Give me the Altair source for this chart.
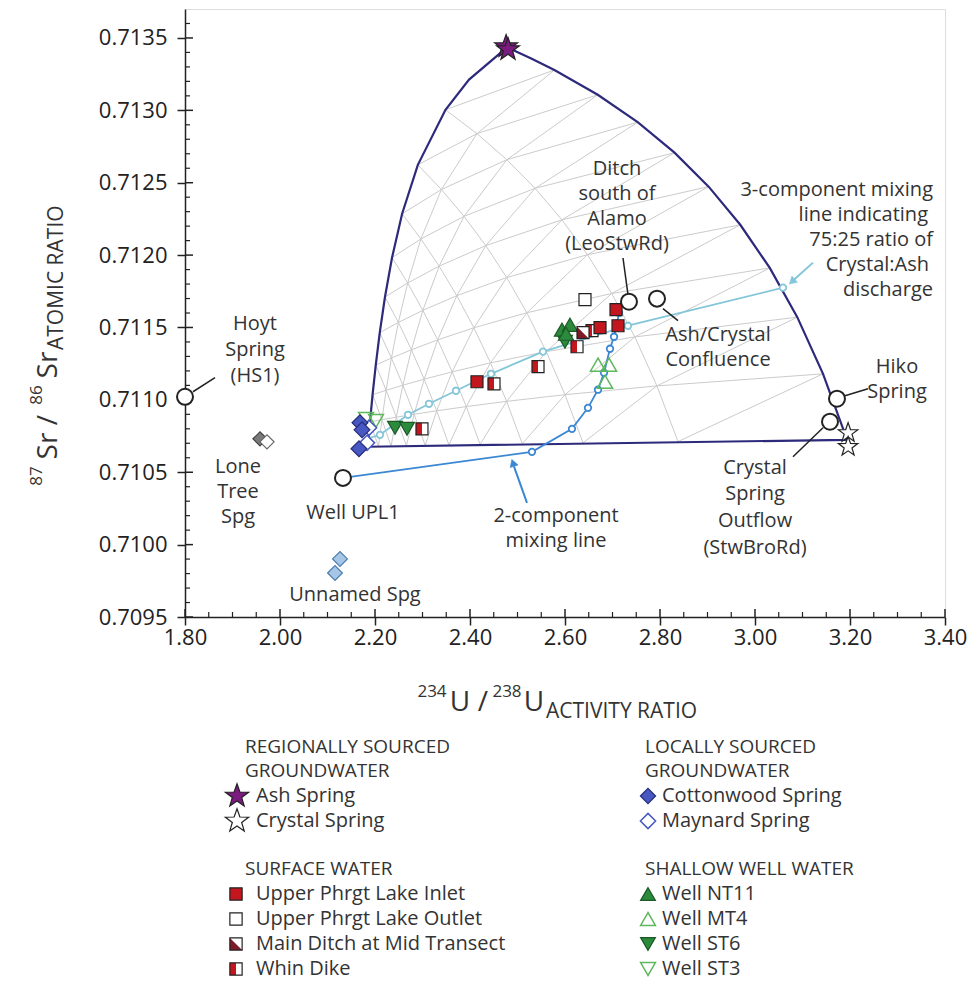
import altair as alt
import pandas as pd

FONT = "Open Sans"
INK = "#333333"
W, H = 760, 608
OX, OY = 185, 9  # page position of the plot origin

# ---------------- axis ticks ----------------
x_major = [1.8, 2.0, 2.2, 2.4, 2.6, 2.8, 3.0, 3.2, 3.4]
x_minor = [1.85, 1.90, 1.95, 2.05, 2.10, 2.15, 2.25, 2.30, 2.35, 2.45, 2.50, 2.55,
           2.65, 2.70, 2.75, 2.85, 2.90, 2.95, 3.05, 3.10, 3.15, 3.25, 3.30, 3.35]
y_major = [0.7095, 0.7100, 0.7105, 0.7110, 0.7115, 0.7120, 0.7125, 0.7130, 0.7135]
y_minor = [0.7096, 0.7097, 0.7098, 0.7099, 0.7101, 0.7102, 0.7103, 0.7104,
           0.7106, 0.7107, 0.7108, 0.7109, 0.7111, 0.7112, 0.7113, 0.7114,
           0.7116, 0.7117, 0.7118, 0.7119, 0.7121, 0.7122, 0.7123, 0.7124,
           0.7126, 0.7127, 0.7128, 0.7129, 0.7131, 0.7132, 0.7133, 0.7134, 0.7136]

# ---------------- 3-component mixing grid nodes (row = Ash tenths, col = local tenths) ----------------
grid_u = [
    [3.194, 2.8379, 2.6380, 2.5101, 2.4212, 2.3557, 2.3057, 2.2660, 2.2339, 2.2073, 2.185],
    [3.1432, 2.7935, 2.6000, 2.4771, 2.3922, 2.3299, 2.2824, 2.2449, 2.2146, 2.1895],
    [3.0890, 2.7470, 2.5605, 2.4432, 2.3625, 2.3036, 2.2587, 2.2235, 2.1949],
    [3.0311, 2.6983, 2.5197, 2.4082, 2.3320, 2.2767, 2.2346, 2.2016],
    [2.9690, 2.6472, 2.4773, 2.3722, 2.3008, 2.2492, 2.2100],
    [2.9024, 2.5935, 2.4332, 2.3350, 2.2688, 2.2210],
    [2.8306, 2.5370, 2.3874, 2.2967, 2.2359],
    [2.7530, 2.4775, 2.3398, 2.2571],
    [2.6690, 2.4147, 2.2902],
    [2.5777, 2.3484],
    [2.478],
]
grid_s = [
    [0.7107240, 0.7107119, 0.7107033, 0.7106969, 0.7106919, 0.7106879, 0.7106847, 0.7106820, 0.7106797, 0.7106777, 0.7106760],
    [0.7111796, 0.7110963, 0.7110357, 0.7109897, 0.7109535, 0.7109244, 0.7109004, 0.7108803, 0.7108632, 0.7108484],
    [0.7115712, 0.7114347, 0.7113335, 0.7112555, 0.7111935, 0.7111431, 0.7111013, 0.7110660, 0.7110359],
    [0.7119113, 0.7117348, 0.7116018, 0.7114978, 0.7114144, 0.7113460, 0.7112888, 0.7112403],
    [0.7122095, 0.7120029, 0.7118447, 0.7117197, 0.7116184, 0.7115347, 0.7114643],
    [0.7124730, 0.7122437, 0.7120657, 0.7119236, 0.7118074, 0.7117106],
    [0.7127077, 0.7124613, 0.7122677, 0.7121115, 0.7119829],
    [0.7129179, 0.7126589, 0.7124530, 0.7122854],
    [0.7131073, 0.7128390, 0.7126235],
    [0.7132789, 0.7130039],
    [0.7134350],
]

# outer boundary of the mixing field (local -> Ash -> Crystal -> local)
boundary_u = [2.185, 2.1895, 2.1949, 2.2016, 2.2100, 2.2210, 2.2359, 2.2571, 2.2902, 2.3484, 2.398,
              2.478, 2.5289, 2.5777, 2.6690, 2.7530, 2.8306, 2.9024, 2.9690, 3.0311, 3.0890, 3.1432,
              3.194, 2.185]
boundary_s = [0.7106760, 0.7108484, 0.7110359, 0.7112403, 0.7114643, 0.7117106, 0.7119829, 0.7122854,
              0.7126235, 0.7130039, 0.7132125, 0.7134350, 0.7133587, 0.7132789, 0.7131073, 0.7129179,
              0.7127077, 0.7124730, 0.7122095, 0.7119113, 0.7115712, 0.7111796, 0.7107240, 0.7106760]

# mixing lines
two_u = [2.1326, 2.5305, 2.6147, 2.6484, 2.6695, 2.6821, 2.6947, 2.7032, 2.7095, 2.7137]
two_s = [0.710461, 0.710641, 0.710800, 0.710945, 0.711070, 0.711187, 0.711353, 0.711436, 0.711526, 0.711602]
three_u = [2.1747, 2.2105, 2.2695, 2.3137, 2.3705, 2.4442, 2.5537, 2.7326, 3.0589]
three_s = [0.710724, 0.7107586, 0.710897, 0.710973, 0.711063, 0.711180, 0.711333, 0.711512, 0.711775]

# samples
ash_u, ash_s = [2.476, 2.480], [0.71344, 0.71342]
crystal_u, crystal_s = [3.196, 3.196], [0.710772, 0.710676]
inlet_u, inlet_s = [2.4147, 2.7074, 2.7116, 2.6737], [0.711125, 0.711623, 0.711512, 0.711499]
outlet_u, outlet_s = [2.6421], [0.711692]
ditch_u, ditch_s = [2.6379], [0.711464]
whin_u, whin_s = [2.2989, 2.4505, 2.5432, 2.6253, 2.6568], [0.710800, 0.711111, 0.711229, 0.711367, 0.711478]
cotton_u, cotton_s = [2.1684, 2.1726, 2.1663], [0.710842, 0.710793, 0.710662]
maynard_u, maynard_s = [2.1874, 2.1832], [0.710807, 0.710703]
nt11_u, nt11_s = [2.5937, 2.6105, 2.6021], [0.711485, 0.711519, 0.711457]
mt4_u, mt4_s = [2.6695, 2.6926, 2.6842], [0.711243, 0.711243, 0.711125]
st6_u, st6_s = [2.2421, 2.2674, 2.6000], [0.710807, 0.710800, 0.711402]
st3_u, st3_s = [2.1811, 2.2021], [0.710869, 0.710855]
lone_u, lone_s = [1.9579, 1.9726], [0.710731, 0.710710]
unnamed_u, unnamed_s = [2.1263, 2.1158], [0.709901, 0.709804]
site_names = ["Hoyt Spring", "Well UPL1", "Ditch LeoStwRd", "Ash/Crystal Confluence", "Hiko Spring", "Crystal Outflow"]
site_u = [1.80, 2.1326, 2.7347, 2.7937, 3.1726, 3.1579]
site_s = [0.711021, 0.710461, 0.711678, 0.711699, 0.711008, 0.710849]

# leader lines (label -> site)
lead_u = [1.8168, 2.7221, 2.8063, 3.1895, 3.1432]
lead_s = [0.711056, 0.711980, 0.711630, 0.711028, 0.710807]
lead_u2 = [1.8632, 2.7326, 2.8379, 3.2379, 3.0800]
lead_s2 = [0.711153, 0.711727, 0.711547, 0.711077, 0.710607]

# ---------------- helpers ----------------
xs = alt.Scale(domain=[1.8, 3.4], nice=False, zero=False)
ys = alt.Scale(domain=[0.7095, 0.7137], nice=False, zero=False)
one = pd.DataFrame({"k": [0]})

x_axis = alt.Axis(values=x_major, format=".2f", title=None, grid=False,
                  labelFont=FONT, labelFontSize=22, labelColor="#222", labelPadding=2,
                  labelFlush=False, labelOverlap=False,
                  tickSize=8, tickWidth=1.5, tickColor="#222",
                  domainColor="#222", domainWidth=1.5)
y_axis = alt.Axis(values=y_major, format=".4f", title=None, grid=False,
                  labelFont=FONT, labelFontSize=22, labelColor="#222", labelPadding=10,
                  labelFlush=False, labelOverlap=False,
                  tickSize=8, tickWidth=1.5, tickColor="#222",
                  domainColor="#222", domainWidth=1.5)

STAR = ("M0,-1L0.235,-0.324L0.951,-0.309L0.380,0.124L0.588,0.809L0,0.4"
        "L-0.588,0.809L-0.380,0.124L-0.951,-0.309L-0.235,-0.324Z")
SQ = "M-1,-1L1,-1L1,1L-1,1Z"
HALF = "M-1,-1L0,-1L0,1L-1,1Z"
DIAG = "M-1,-1L1,1L-1,1Z"

RED = "#c3161f"
DRED = "#7d1a26"
GREEN = "#2b8a3b"
LGREEN = "#5cb85c"
BLUE = "#4758c2"


def XF(field="u"):
    return alt.X(f"{field}:Q", scale=xs, axis=x_axis)


def YF(field="s"):
    return alt.Y(f"{field}:Q", scale=ys, axis=y_axis)


def pts(u, s, shape, size, fill=None, stroke="#222", sw=1.2, angle=0):
    mk = dict(shape=shape, size=size, strokeWidth=sw, opacity=1, angle=angle)
    if fill is None:
        mk.update(filled=False, color=stroke)
    else:
        mk.update(filled=True, fill=fill, stroke=stroke)
    return alt.Chart(pd.DataFrame({"u": u, "s": s})).mark_point(**mk).encode(x=XF(), y=YF())


def sym(px, py, shape, size, fill=None, stroke="#222", sw=1.2):
    mk = dict(shape=shape, size=size, strokeWidth=sw, opacity=1)
    if fill is None:
        mk.update(filled=False, color=stroke)
    else:
        mk.update(filled=True, fill=fill, stroke=stroke)
    return alt.Chart(one).mark_point(**mk).encode(x=alt.value(px - OX), y=alt.value(py - OY))


def txt(s, px, py, size=20, align="center", baseline="middle", color=INK, angle=0):
    return alt.Chart(one).mark_text(text=s, font=FONT, fontSize=size, align=align,
                                    baseline=baseline, color=color, angle=angle).encode(
        x=alt.value(px - OX), y=alt.value(py - OY))


def polyline(df, color, width):
    return alt.Chart(df).mark_line(color=color, strokeWidth=width).encode(
        x=XF(), y=YF(), detail="line:N", order="i:Q")


# ---------------- grid lines ----------------
rows = []
lid = 0
for k in range(1, 10):
    famA = [(grid_u[k][l], grid_s[k][l]) for l in range(0, 11 - k)]
    famL = [(grid_u[a][k], grid_s[a][k]) for a in range(0, 11 - k)]
    famC = [(grid_u[a][10 - a - k], grid_s[a][10 - a - k]) for a in range(0, 11 - k)]
    for fam in (famA, famL, famC):
        for i, (uu, ss) in enumerate(fam):
            rows.append({"line": lid, "i": i, "u": uu, "s": ss})
        lid += 1
grid_df = pd.DataFrame(rows)
grid_layer = polyline(grid_df, "#cbcbcb", 1)

bdf = pd.DataFrame({"u": boundary_u, "s": boundary_s, "i": list(range(len(boundary_u))), "line": 0})
boundary_layer = polyline(bdf, "#2d2a7c", 2.2)

two_df = pd.DataFrame({"u": two_u, "s": two_s, "i": list(range(len(two_u))), "line": 0})
three_df = pd.DataFrame({"u": three_u, "s": three_s, "i": list(range(len(three_u))), "line": 0})
two_line = polyline(two_df, "#3b87d3", 1.8)
three_line = polyline(three_df, "#84c6d9", 1.8)
two_marks = pts(two_u[1:], two_s[1:], "circle", 42, fill="white", stroke="#3b87d3", sw=1.8)
three_marks = pts(three_u[1:], three_s[1:], "circle", 42, fill="white", stroke="#84c6d9", sw=1.8)

# inside tick marks
ty_major = alt.Chart(pd.DataFrame({"s": y_major})).mark_rule(color="#222", strokeWidth=1.5).encode(
    y=YF(), x=alt.value(0), x2=alt.value(8))
ty_minor = alt.Chart(pd.DataFrame({"s": y_minor})).mark_rule(color="#222", strokeWidth=1.2).encode(
    y=YF(), x=alt.value(0), x2=alt.value(5))
tx_major = alt.Chart(pd.DataFrame({"u": x_major})).mark_rule(color="#222", strokeWidth=1.5).encode(
    x=XF(), y=alt.value(H), y2=alt.value(H - 8))
tx_minor = alt.Chart(pd.DataFrame({"u": x_minor})).mark_rule(color="#222", strokeWidth=1.2).encode(
    x=XF(), y=alt.value(H), y2=alt.value(H - 5))


def segs(u, s, u2, s2, color, width):
    df = pd.DataFrame({"u": u, "s": s, "u2": u2, "s2": s2})
    return alt.Chart(df).mark_rule(color=color, strokeWidth=width).encode(
        x=XF(), y=YF(), x2="u2:Q", y2="s2:Q")


leaders = segs(lead_u, lead_s, lead_u2, lead_s2, "#222", 1.5)

# arrows
arrow_blue = segs([2.52], [0.710288], [2.4925], [0.710540], "#3b87d3", 2)
arrow_blue_head = pts([2.4905], [0.710565], "triangle-up", 70, fill="#3b87d3", stroke="#3b87d3", sw=0.5, angle=341)
arrow_cyan = segs([3.1221], [0.711948], [3.0820], [0.711830], "#84c6d9", 2)
arrow_cyan_head = pts([3.0779], [0.711817], "triangle-up", 70, fill="#84c6d9", stroke="#84c6d9", sw=0.5, angle=228)

# sample markers
markers = [
    pts(lone_u[:1], lone_s[:1], "diamond", 200, fill="#7a7a7a", stroke="#444"),
    pts(lone_u[1:], lone_s[1:], "diamond", 200, fill="white", stroke="#666"),
    pts(unnamed_u, unnamed_s, "diamond", 220, fill="#a6c6e6", stroke="#4b7db1"),
    pts(st3_u, st3_s, "triangle-down", 220, stroke=LGREEN, sw=1.5),
    pts(maynard_u, maynard_s, "diamond", 230, fill="white", stroke=BLUE, sw=1.5),
    pts(cotton_u, cotton_s, "diamond", 250, fill=BLUE, stroke="#262c78"),
    pts(st6_u, st6_s, "triangle-down", 220, fill=GREEN, stroke="#1c5a26"),
    pts(nt11_u, nt11_s, "triangle-up", 230, fill=GREEN, stroke="#1c5a26"),
    pts(mt4_u, mt4_s, "triangle-up", 230, stroke=LGREEN, sw=1.5),
    pts(whin_u, whin_s, SQ, 144, fill="white", stroke="white", sw=0),
    pts(whin_u, whin_s, HALF, 144, fill=RED, stroke=RED, sw=0),
    pts(whin_u, whin_s, SQ, 144, stroke="#222", sw=1.2),
    pts(ditch_u, ditch_s, SQ, 144, fill="white", stroke="white", sw=0),
    pts(ditch_u, ditch_s, DIAG, 144, fill=DRED, stroke=DRED, sw=0),
    pts(ditch_u, ditch_s, SQ, 144, stroke="#222", sw=1.2),
    pts(outlet_u, outlet_s, SQ, 144, fill="white", stroke="#222"),
    pts(inlet_u, inlet_s, SQ, 144, fill=RED, stroke="#222"),
    pts(site_u, site_s, "circle", 256, fill="white", stroke="#222", sw=2),
    pts(crystal_u, crystal_s, STAR, 420, fill="white", stroke="#222", sw=1.2),
    pts(ash_u, ash_s, STAR, 580, fill="#7b1b80", stroke="#222", sw=1.2),
]

# ---------------- annotation text ----------------
notes = [
    ("Hoyt", 255, 324), ("Spring", 255, 350), ("(HS1)", 255, 376),
    ("Lone", 238, 467), ("Tree", 238, 492), ("Spg", 238, 517),
    ("Well UPL1", 353, 513),
    ("Unnamed Spg", 355, 595),
    ("2-component", 556, 516), ("mixing line", 556, 541),
    ("Ditch", 617, 169), ("south of", 617, 194), ("Alamo", 617, 219), ("(LeoStwRd)", 617, 244),
    ("Ash/Crystal", 718, 335), ("Confluence", 718, 360),
    ("Hiko", 897, 367), ("Spring", 897, 392),
    ("Crystal", 755, 468), ("Spring", 755, 494), ("Outflow", 755, 521), ("(StwBroRd)", 755, 548),
]
note_layers = [txt(t, x, y) for t, x, y in notes]
right_notes = [("3-component mixing", 933, 190), ("line indicating", 928, 215), ("75:25 ratio of", 933, 240),
               ("Crystal:Ash", 929, 265), ("discharge", 933, 290)]
note_layers += [txt(t, x, y, align="right") for t, x, y in right_notes]

# axis titles with super/subscripts
title_layers = [
    txt("234", 432, 697, size=17, baseline="alphabetic"),
    txt("U", 460, 711, size=28, baseline="alphabetic"),
    txt("/", 483, 711, size=28, baseline="alphabetic"),
    txt("238", 507, 697, size=17, baseline="alphabetic"),
    txt("U", 534, 711, size=28, baseline="alphabetic"),
    txt("ACTIVITY RATIO", 546, 718, size=21, align="left", baseline="alphabetic"),
    txt("87", 42, 476, size=17, baseline="alphabetic", angle=270),
    txt("Sr", 57, 446, size=28, baseline="alphabetic", angle=270),
    txt("/", 57, 420, size=28, baseline="alphabetic", angle=270),
    txt("86", 42, 395, size=17, baseline="alphabetic", angle=270),
    txt("Sr", 57, 365, size=28, baseline="alphabetic", angle=270),
    txt("ATOMIC RATIO", 63, 350, size=21, align="left", baseline="alphabetic", angle=270),
]

# ---------------- legend ----------------
legend_text = [
    ("REGIONALLY SOURCED", 245, 747, 19), ("GROUNDWATER", 245, 771, 19),
    ("Ash Spring", 256, 796, 20), ("Crystal Spring", 256, 821, 20),
    ("SURFACE WATER", 245, 869, 19),
    ("Upper Phrgt Lake Inlet", 256, 894, 20), ("Upper Phrgt Lake Outlet", 256, 919, 20),
    ("Main Ditch at Mid Transect", 256, 944, 20), ("Whin Dike", 256, 969, 20),
    ("LOCALLY SOURCED", 645, 747, 19), ("GROUNDWATER", 645, 771, 19),
    ("Cottonwood Spring", 662, 796, 20), ("Maynard Spring", 662, 821, 20),
    ("SHALLOW WELL WATER", 645, 869, 19),
    ("Well NT11", 662, 894, 20), ("Well MT4", 662, 919, 20),
    ("Well ST6", 662, 944, 20), ("Well ST3", 662, 969, 20),
]
legend_layers = [txt(t, x, y, size=sz, align="left") for t, x, y, sz in legend_text]
legend_layers += [
    sym(237, 796, STAR, 600, fill="#7b1b80", stroke="#222"),
    sym(237, 821, STAR, 600, fill="white", stroke="#222"),
    sym(236, 894, SQ, 150, fill=RED, stroke="#222"),
    sym(236, 919, SQ, 150, fill="white", stroke="#222"),
    sym(236, 944, SQ, 150, fill="white", stroke="white", sw=0),
    sym(236, 944, DIAG, 150, fill=DRED, stroke=DRED, sw=0),
    sym(236, 944, SQ, 150, stroke="#222"),
    sym(236, 969, SQ, 150, fill="white", stroke="white", sw=0),
    sym(236, 969, HALF, 150, fill=RED, stroke=RED, sw=0),
    sym(236, 969, SQ, 150, stroke="#222"),
    sym(648, 796, "diamond", 230, fill=BLUE, stroke="#262c78"),
    sym(648, 821, "diamond", 230, fill="white", stroke=BLUE, sw=1.5),
    sym(648, 894, "triangle-up", 220, fill=GREEN, stroke="#1c5a26"),
    sym(648, 919, "triangle-up", 220, stroke=LGREEN, sw=1.5),
    sym(648, 944, "triangle-down", 220, fill=GREEN, stroke="#1c5a26"),
    sym(648, 969, "triangle-down", 220, stroke=LGREEN, sw=1.5),
]

layers = ([grid_layer, boundary_layer, three_line, two_line, three_marks, two_marks,
           ty_major, ty_minor, tx_major, tx_minor, leaders,
           arrow_blue, arrow_blue_head, arrow_cyan, arrow_cyan_head]
          + markers + note_layers + title_layers + legend_layers)

chart = alt.layer(*layers).properties(
    width=W, height=H,
    autosize=alt.AutoSizeParams(type="none"),
    padding={"left": OX, "top": OY, "right": 973 - OX - W, "bottom": 981 - OY - H},
).configure_view(stroke="#333", strokeWidth=1.5).configure(background="white")

chart.save("out.html", embed_options={"renderer": "svg", "actions": False})
